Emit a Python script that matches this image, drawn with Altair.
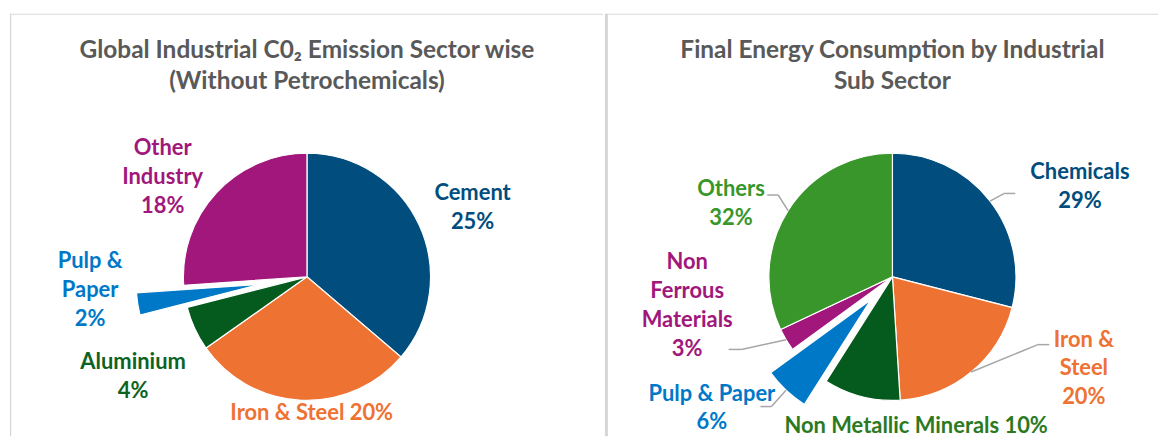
import altair as alt
import pandas as pd

# ---------------- data ----------------
left_sectors = ["Cement", "Iron & Steel", "Aluminium", "Pulp & Paper", "Other Industry"]
left_values = [25, 20, 4, 2, 18]
left_labels = ["Cement\n25%", "Iron & Steel 20%", "Aluminium\n4%", "Pulp &\nPaper\n2%", "Other\nIndustry\n18%"]
left_title = "Global Industrial C0\u2082 Emission Sector wise\n(Without Petrochemicals)"

right_sectors = ["Chemicals", "Iron & Steel", "Non Metallic Minerals", "Pulp & Paper",
                 "Non Ferrous Materials", "Others"]
right_values = [29, 20, 10, 6, 3, 32]
right_labels = ["Chemicals\n29%", "Iron &\nSteel\n20%", "Non Metallic Minerals 10%", "Pulp & Paper\n6%",
                "Non\nFerrous\nMaterials\n3%", "Others\n32%"]
right_title = "Final Energy Consumption by Industrial\nSub Sector"

# ---------------- styles ----------------
left_colors = ["#004d7e", "#ee7232", "#045b1d", "#0078c8", "#a1177b"]
left_label_colors = ["#004d7e", "#ee7232", "#0c6322", "#0078c8", "#a1177b"]
right_colors = ["#004d7e", "#ee7232", "#045b1d", "#0078c8", "#a1177b", "#38962a"]
right_label_colors = ["#004d7e", "#ee7232", "#2b7a22", "#0078c8", "#a1177b", "#38962a"]

FONT = "Lato, 'Open Sans', sans-serif"
LABEL_SIZE = 22
LABEL_LH = 29
TITLE_SIZE = 24.5
TITLE_LH = 32
R = 124
VIEW_H = 424
LEFT_W, RIGHT_W = 595, 555
LEFT_C = (298, 264)
RIGHT_C = (288.5, 264)

# layout per slice: explode (px), label angle nudge (deg), label distance (px)
left_layout = {
    "Cement": (0, 2.2, 180),
    "Iron & Steel": (0, -4.6, 137),
    "Aluminium": (0, -5, 201),
    "Pulp & Paper": (48, 5.6, 218),
    "Other Industry": (0, -8.4, 176),
}
right_layout = {
    "Chemicals": (0, 12, 209),
    "Iron & Steel": (0, -24.8, 213),
    "Non Metallic Minerals": (0, -23.4, 152),
    "Pulp & Paper": (32, 10.8, 224),
    "Non Ferrous Materials": (0, 22.6, 208),
    "Others": (0, -7.9, 178),
}
# leader lines: elbow angle nudge (deg), elbow distance (px), horizontal tail (px)
right_leaders = {
    "Chemicals": (1.1, 140, 11),
    "Iron & Steel": (-25.4, 161, 11.5),
    "Pulp & Paper": (-0.2, 178, -11),
    "Non Ferrous Materials": (4.9, 168, -13),
    "Others": (3.2, 141, -11),
}


def build_table(sectors, values, labels, colors, label_colors, layout, leaders):
    rows = []
    for i, s in enumerate(sectors):
        ex, ln, ld = layout[s]
        en, ed, tail = leaders.get(s, (0, 0, 0))
        rows.append({
            "sector": s, "value": values[i], "order": i, "label": labels[i],
            "color": colors[i], "label_color": label_colors[i],
            "explode": ex, "lab_nudge": ln, "lab_dist": ld,
            "leader": s in leaders, "elb_nudge": en, "elb_dist": ed, "tail": tail,
        })
    return pd.DataFrame(rows)


def panel(df, center, width, title, leaders=True, divider_w=1.0):
    cx, cy = center
    base = (
        alt.Chart(df)
        .transform_joinaggregate(total="sum(value)")
        .transform_window(cum="sum(value)", sort=[alt.SortField("order")], frame=[None, 0])
        .transform_calculate(
            a0="2*PI*(datum.cum-datum.value)/datum.total",
            a1="2*PI*datum.cum/datum.total",
        )
        .transform_calculate(mid="(datum.a0+datum.a1)/2")
        .transform_calculate(
            px=f"{cx}+datum.explode*sin(datum.mid)",
            py=f"{cy}-datum.explode*cos(datum.mid)",
            la="datum.mid+datum.lab_nudge*PI/180",
            ea="datum.mid+datum.elb_nudge*PI/180",
            nl="length(split(datum.label, '\\n'))",
        )
        .transform_calculate(
            lx=f"{cx}+datum.lab_dist*sin(datum.la)",
            ly=f"{cy}-datum.lab_dist*cos(datum.la)-(datum.nl-1)*{LABEL_LH}/2",
            sx=f"{cx}+({R}+datum.explode)*sin(datum.mid)",
            sy=f"{cy}-({R}+datum.explode)*cos(datum.mid)",
            ex=f"{cx}+datum.elb_dist*sin(datum.ea)",
            ey=f"{cy}-datum.elb_dist*cos(datum.ea)",
        )
        .transform_calculate(tx="datum.ex+datum.tail")
    )

    arcs = base.mark_arc(radius=R, stroke="white", strokeWidth=1.2).encode(
        theta=alt.Theta("a0:Q", scale=None),
        theta2=alt.Theta2("a1:Q"),
        x=alt.X("px:Q", scale=None),
        y=alt.Y("py:Q", scale=None),
        color=alt.Color("color:N", scale=None),
    )

    labels = base.mark_text(
        font=FONT, fontWeight="bold", fontSize=LABEL_SIZE, lineBreak="\n",
        lineHeight=LABEL_LH, align="center", baseline="middle",
    ).encode(
        x=alt.X("lx:Q", scale=None),
        y=alt.Y("ly:Q", scale=None),
        text="label:N",
        color=alt.Color("label_color:N", scale=None),
    )

    layers = []
    deco = alt.Chart(pd.DataFrame({"k": [0]}))
    top = deco.mark_rule(color="#d9d9d9", strokeWidth=1.2).encode(
        x=alt.value(0), x2=alt.value(width), y=alt.value(0.5))
    side = deco.mark_rule(color="#d6d6d6", strokeWidth=divider_w).encode(
        x=alt.value(divider_w / 2), y=alt.value(0), y2=alt.value(VIEW_H))
    ttl = deco.mark_text(
        font=FONT, fontWeight="bold", fontSize=TITLE_SIZE, lineBreak="\n",
        lineHeight=TITLE_LH, align="center", baseline="middle", color="#595959",
    ).encode(x=alt.value(cx), y=alt.value(37), text=alt.value(title))
    layers += [top, side, ttl, arcs]

    if leaders:
        lead = base.transform_filter("datum.leader")
        seg1 = lead.mark_rule(color="#a6a6a6", strokeWidth=1.5).encode(
            x=alt.X("sx:Q", scale=None), y=alt.Y("sy:Q", scale=None),
            x2="ex:Q", y2="ey:Q")
        seg2 = lead.mark_rule(color="#a6a6a6", strokeWidth=1.5).encode(
            x=alt.X("ex:Q", scale=None), y=alt.Y("ey:Q", scale=None),
            x2="tx:Q", y2="ey:Q")
        layers += [seg1, seg2]

    layers.append(labels)
    return alt.layer(*layers).properties(width=width, height=VIEW_H)


left_df = build_table(left_sectors, left_values, left_labels, left_colors,
                      left_label_colors, left_layout, {})
right_df = build_table(right_sectors, right_values, right_labels, right_colors,
                       right_label_colors, right_layout, right_leaders)

left = panel(left_df, LEFT_C, LEFT_W, left_title, leaders=False, divider_w=1.2)
right = panel(right_df, RIGHT_C, RIGHT_W, right_title, leaders=True, divider_w=3)

chart = (
    alt.hconcat(left, right, spacing=0)
    .properties(padding={"left": 1, "top": 3, "right": 0, "bottom": 0}, background="white")
    .configure_view(stroke=None)
)

chart.save("out.html", embed_options={"renderer": "svg", "actions": False})
